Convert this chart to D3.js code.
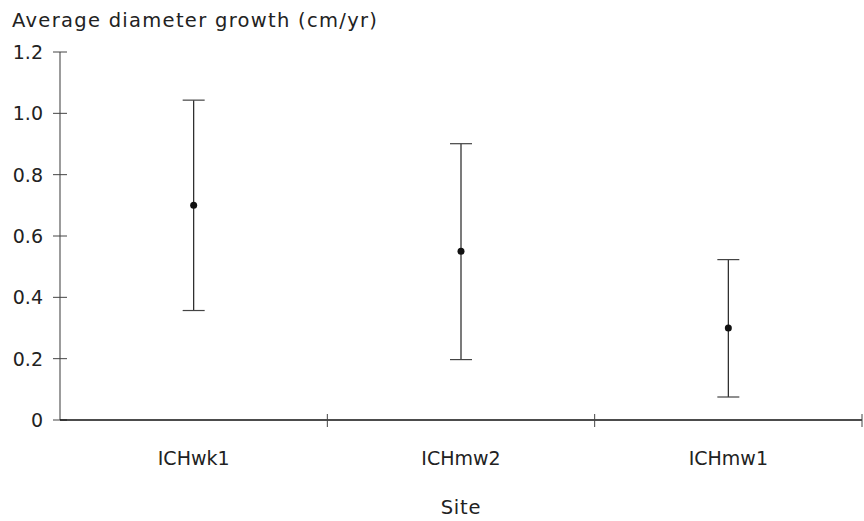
<!DOCTYPE html>
<html>
<head>
<meta charset="utf-8">
<script src="https://cdn.jsdelivr.net/npm/d3@7"></script>
<style>
  body { margin: 0; background: #fff; }
  svg text { font-family: "DejaVu Sans", sans-serif; fill: #222; font-weight: normal; }
</style>
</head>
<body>
<svg id="chart" width="864" height="521"></svg>
<script>
// Average diameter growth by site: mean with lower/upper range
const sites = ["ICHwk1", "ICHmw2", "ICHmw1"];
const means = [0.70, 0.55, 0.30];
const lows = [0.357, 0.197, 0.075];
const highs = [1.043, 0.901, 0.523];
const yTicks = [0, 0.2, 0.4, 0.6, 0.8, 1.0, 1.2];

const svg = d3.select("#chart");
const x0 = 60, x1 = 862, yTop = 52, yBottom = 420;

const x = d3.scaleBand().domain(sites).range([x0, x1]);
const y = d3.scaleLinear().domain([0, 1.2]).range([yBottom, yTop]);

// y axis
svg.append("line")
  .attr("x1", x0).attr("x2", x0).attr("y1", yTop).attr("y2", yBottom)
  .attr("stroke", "#666").attr("stroke-width", 1.3);
svg.selectAll(".ytick").data(yTicks).enter().append("line")
  .attr("x1", x0 - 7).attr("x2", x0 + 7)
  .attr("y1", d => y(d)).attr("y2", d => y(d))
  .attr("stroke", "#444").attr("stroke-width", 1);
svg.selectAll(".ylab").data(yTicks).enter().append("text")
  .attr("x", 43).attr("y", d => y(d)).attr("dy", "0.36em")
  .attr("text-anchor", "end").attr("font-size", 19)
  .text(d => d === 0 ? "0" : d3.format(".1f")(d));

// x axis
svg.append("line")
  .attr("x1", x0).attr("x2", x1).attr("y1", yBottom).attr("y2", yBottom)
  .attr("stroke", "#111").attr("stroke-width", 1.3);
const xTickPos = sites.map(s => x(s)).concat([x1]).slice(1);
svg.selectAll(".xtick").data(xTickPos).enter().append("line")
  .attr("x1", d => d).attr("x2", d => d)
  .attr("y1", yBottom - 6).attr("y2", yBottom + 7)
  .attr("stroke", "#444").attr("stroke-width", 1);
svg.selectAll(".xlab").data(sites).enter().append("text")
  .attr("x", d => x(d) + x.bandwidth() / 2).attr("y", 465)
  .attr("text-anchor", "middle").attr("font-size", 19)
  .text(d => d);

// titles
svg.append("text").attr("x", 12).attr("y", 27).attr("font-size", 19.5)
  .attr("letter-spacing", "1.3px")
  .text("Average diameter growth (cm/yr)");
svg.append("text").attr("x", (x0 + x1) / 2).attr("y", 514).attr("text-anchor", "middle")
  .attr("font-size", 19.5).attr("letter-spacing", "0.8px").text("Site");

// error bars and means
const data = sites.map((s, i) => ({ site: s, mean: means[i], lo: lows[i], hi: highs[i] }));
const cx = d => x(d.site) + x.bandwidth() / 2;
const g = svg.append("g");
g.selectAll(".whisker").data(data).enter().append("line")
  .attr("x1", cx).attr("x2", cx)
  .attr("y1", d => y(d.hi)).attr("y2", d => y(d.lo))
  .attr("stroke", "#222").attr("stroke-width", 1.2);
["hi", "lo"].forEach(k => {
  g.selectAll(".cap-" + k).data(data).enter().append("line")
    .attr("x1", d => cx(d) - 11).attr("x2", d => cx(d) + 11)
    .attr("y1", d => y(d[k])).attr("y2", d => y(d[k]))
    .attr("stroke", "#444").attr("stroke-width", 1.2);
});
g.selectAll(".dot").data(data).enter().append("circle")
  .attr("cx", cx).attr("cy", d => y(d.mean)).attr("r", 3.5)
  .attr("fill", "#111");
</script>
</body>
</html>
